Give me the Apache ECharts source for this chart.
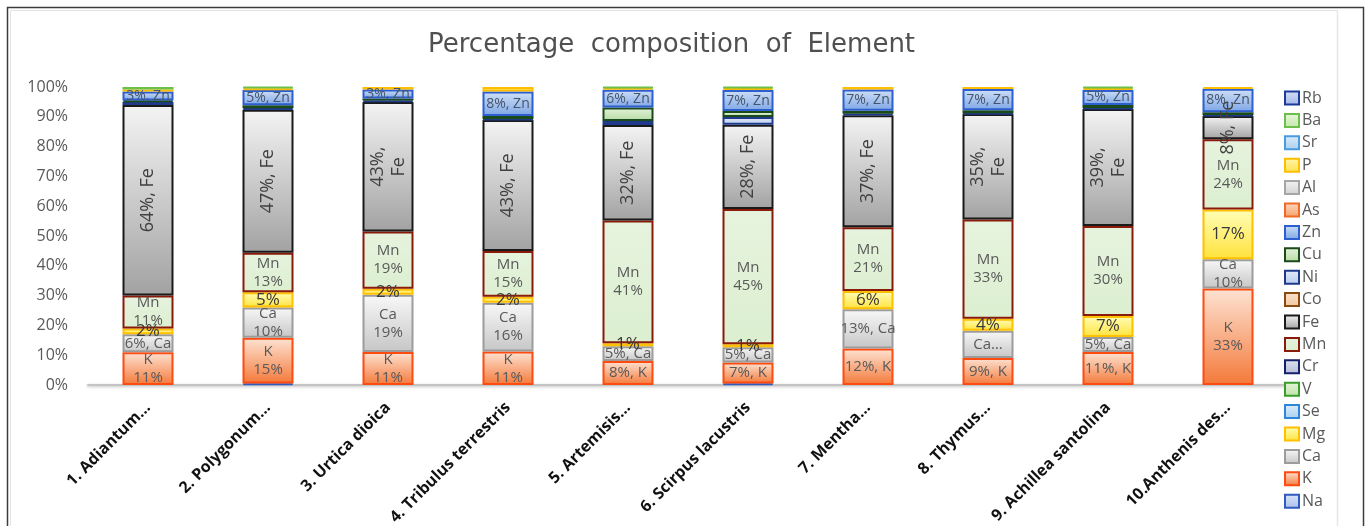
<!DOCTYPE html>
<html>
<head>
<meta charset="utf-8">
<script src="https://cdn.jsdelivr.net/npm/echarts@6/dist/echarts.min.js"></script>
<style>
  html, body { margin: 0; padding: 0; background: #ffffff; }
  #chart { width: 1369px; height: 526px; }
</style>
</head>
<body>
<div id="chart"></div>
<script>
// Plant samples (x categories)
const plants = ['1. Adiantum\u2026', '2. Polygonum\u2026', '3. Urtica dioica', '4. Tribulus terrestris',
  '5. Artemisis\u2026', '6. Scirpus lacustris', '7. Mentha\u2026', '8. Thymus\u2026',
  '9. Achillea santolina', '10.Anthenis des\u2026'];

// Stack order, bottom to top
const elements = ['Na', 'K', 'Ca', 'Mg', 'Se', 'V', 'Cr', 'Mn', 'Fe', 'Co', 'Ni', 'Cu', 'Zn', 'As', 'Al', 'P', 'Sr', 'Ba', 'Rb'];

// Element content per plant (%)
const Na = [0, 0.5, 0, 0, 0, 0.5, 0, 0, 0, 0];
const K  = [11, 15, 11, 11, 8, 7, 12, 9, 11, 33];
const Ca = [6, 10, 19, 16, 5, 5, 13, 9, 5, 10];
const Mg = [2, 5, 2, 2, 1, 1, 6, 4, 7, 17];
const Se = [0, 0, 0, 0, 0, 0, 0, 0, 0, 0];
const V  = [0, 0, 0, 0, 0, 0, 0, 0, 0, 0];
const Cr = [0, 0, 0, 0, 0, 0, 0, 0, 0, 0];
const Mn = [11, 13, 19, 15, 41, 45, 21, 33, 30, 24];
const Fe = [64, 47, 43, 43, 32, 28, 37, 35, 39, 8];
const Co = [0, 0, 0, 0, 0, 0, 0, 0, 0, 0];
const Ni = [1, 0.5, 0.5, 0.3, 1.3, 2.5, 0.5, 0.3, 0.3, 0.3];
const Cu = [0.5, 1, 0.7, 1, 4.5, 2, 1, 1, 1, 1];
const Zn = [3, 5, 3, 8, 6, 7, 7, 7, 5, 8];
const As = [0, 0, 0, 0, 0, 0, 0, 0, 0, 0];
const Al = [0, 0, 0, 0, 0, 0, 0, 0, 0, 0];
const P  = [0.7, 0.6, 0.8, 1.5, 0.6, 0.6, 0.8, 0.7, 0.6, 0.6];
const Sr = [0, 0, 0, 0, 0, 0, 0, 0, 0, 0];
const Ba = [0.8, 0.4, 0, 0, 0.3, 0.4, 0, 0, 0.4, 0];
const Rb = [0, 0, 0, 0, 0, 0, 0, 0, 0, 0];

// Data label texts ({v} = rounded value)
const labelK  = ['K\n{v}', 'K\n{v}', 'K\n{v}', 'K\n{v}', '{v}, K', '{v}, K', '{v}, K', '{v}, K', '{v}, K', 'K\n{v}'];
const labelCa = ['{v}, Ca', 'Ca\n{v}', 'Ca\n{v}', 'Ca\n{v}', '{v}, Ca', '{v}, Ca', '{v}, Ca', 'Ca\u2026', '{v}, Ca', 'Ca\n{v}'];
const labelMg = ['{v}', '{v}', '{v}', '{v}', '{v}', '{v}', '{v}', '{v}', '{v}', '{v}'];
const labelMn = ['Mn\n{v}', 'Mn\n{v}', 'Mn\n{v}', 'Mn\n{v}', 'Mn\n{v}', 'Mn\n{v}', 'Mn\n{v}', 'Mn\n{v}', 'Mn\n{v}', 'Mn\n{v}'];
const labelFe = ['{v}, Fe', '{v}, Fe', '{v},\nFe', '{v}, Fe', '{v}, Fe', '{v}, Fe', '{v}, Fe', '{v},\nFe', '{v},\nFe', '{v}, Fe'];
const labelZn = ['{v}, Zn', '{v}, Zn', '{v}, Zn', '{v}, Zn', '{v}, Zn', '{v}, Zn', '{v}, Zn', '{v}, Zn', '{v}, Zn', '{v}, Zn'];

const yTicks = [0, 10, 20, 30, 40, 50, 60, 70, 80, 90, 100];

const values = { Na, K, Ca, Mg, Se, V, Cr, Mn, Fe, Co, Ni, Cu, Zn, As, Al, P, Sr, Ba, Rb };
const labels = { K: labelK, Ca: labelCa, Mg: labelMg, Mn: labelMn, Fe: labelFe, Zn: labelZn };

// Fill gradient (top, bottom) and outline per element
const looks = {
  Na: ['#dbe5f8', '#a9c0ec', '#2f5bbf'],
  K:  ['#fde3d3', '#f4793a', '#ff4a10'],
  Ca: ['#f8f8f8', '#c6c6c6', '#9c9c9c'],
  Mg: ['#ffffb8', '#ffe23c', '#ffc000'],
  Se: ['#deedfa', '#a8cff1', '#2e86d8'],
  V:  ['#e4f4da', '#bfe3a8', '#3a9e2c'],
  Cr: ['#dfe3ef', '#b4bcd6', '#14206a'],
  Mn: ['#e6f3de', '#dcefd0', '#8a1a0a'],
  Fe: ['#f4f4f4', '#a2a2a2', '#1a1a1a'],
  Co: ['#fbe3cc', '#f1c79e', '#8a4a10'],
  Ni: ['#e3ebf8', '#b8cdef', '#1f3a8a'],
  Cu: ['#e4f2dc', '#b6dba2', '#1b4a1b'],
  Zn: ['#cfe0f7', '#7ea6e6', '#2e5fd0'],
  As: ['#fcd9c3', '#f6a06a', '#ef6a24'],
  Al: ['#f4f4f4', '#d2d2d2', '#a6a6a6'],
  P:  ['#fff6b0', '#ffe14a', '#ffbf00'],
  Sr: ['#dcecfa', '#a9cef0', '#4a9ae0'],
  Ba: ['#e8f6de', '#c4e8ac', '#6cc04a'],
  Rb: ['#d5def5', '#a3b6e6', '#1c3a9c']
};

const totals = plants.map((_, i) => elements.reduce((s, e) => s + values[e][i], 0));

function grad(top, bottom) {
  return new echarts.graphic.LinearGradient(0, 0, 0, 1, [
    { offset: 0, color: top }, { offset: 1, color: bottom }
  ]);
}

function labelOption(name) {
  const tpl = labels[name];
  if (!tpl) return { show: false };
  const base = {
    show: true,
    position: 'inside',
    fontFamily: 'Open Sans',
    fontSize: 15,
    lineHeight: 18,
    color: '#595959',
    formatter: p => tpl[p.dataIndex].replace('{v}', Math.round(values[name][p.dataIndex]) + '%')
  };
  if (name === 'Fe') Object.assign(base, { rotate: 90, fontSize: 18, lineHeight: 21, color: '#404040' });
  if (name === 'Mg') Object.assign(base, { fontSize: 17, color: '#3a3a3a' });
  if (name === 'Zn') Object.assign(base, { fontSize: 14, color: '#44546a' });
  return base;
}

const series = elements.map(name => ({
  name,
  type: 'bar',
  stack: 'share',
  barWidth: 51,
  data: plants.map((_, i) => values[name][i] > 0 ? values[name][i] / totals[i] * 100 : '-'),
  itemStyle: {
    color: grad(looks[name][0], looks[name][1]),
    borderColor: looks[name][2],
    borderWidth: 2
  },
  label: labelOption(name),
  emphasis: { disabled: true }
}));

const chart = echarts.init(document.getElementById('chart'), null, { renderer: 'canvas' });
chart.setOption({
  animation: false,
  backgroundColor: '#ffffff',
  title: {
    text: 'Percentage  composition  of  Element',
    left: 423,
    top: 27,
    textStyle: { fontFamily: 'DejaVu Sans', fontSize: 26, fontWeight: 'normal', color: '#505050' }
  },
  legend: {
    orient: 'vertical',
    left: 1279,
    top: 85,
    itemWidth: 14,
    itemHeight: 13,
    itemGap: 6.4,
    icon: 'rect',
    selectedMode: false,
    data: elements.slice().reverse(),
    textStyle: { fontFamily: 'Open Sans', fontSize: 16, lineHeight: 16, color: '#595959', padding: [0, 0, 0, -2] }
  },
  grid: { left: 88, right: 81, top: 87, bottom: 141, containLabel: false, outerBoundsMode: 'none' },
  xAxis: {
    type: 'category',
    data: plants,
    offset: 14,
    axisLine: { show: true, lineStyle: { color: '#c4c4c4', width: 2, shadowColor: 'rgba(0,0,0,0.25)', shadowBlur: 3, shadowOffsetY: 1 } },
    axisTick: { show: false },
    axisLabel: {
      interval: 0,
      rotate: 45,
      margin: 6,
      fontFamily: 'Open Sans',
      fontSize: 16,
      fontWeight: 'bold',
      color: '#111111'
    }
  },
  yAxis: {
    type: 'value',
    min: yTicks[0],
    max: yTicks[yTicks.length - 1],
    interval: yTicks[1] - yTicks[0],
    axisLine: { show: false },
    axisTick: { show: false },
    splitLine: { show: false },
    axisLabel: { formatter: '{value}%', fontFamily: 'Open Sans', fontSize: 16, color: '#595959', margin: 20 }
  },
  graphic: [
    { type: 'rect', silent: true, z: 100, shape: { x: 7.5, y: 7.5, width: 1356, height: 540 },
      style: { fill: 'none', stroke: '#3c3c3c', lineWidth: 1.5 } },
    { type: 'line', silent: true, z: 100, shape: { x1: 10.5, y1: 10.5, x2: 1337.5, y2: 10.5 },
      style: { stroke: '#e2e2e2', lineWidth: 1 } },
    { type: 'line', silent: true, z: 100, shape: { x1: 10.5, y1: 10.5, x2: 10.5, y2: 526 },
      style: { stroke: '#e2e2e2', lineWidth: 1 } },
    { type: 'line', silent: true, z: 100, shape: { x1: 1337.5, y1: 10.5, x2: 1337.5, y2: 526 },
      style: { stroke: '#e6e6e6', lineWidth: 1.5 } }
  ],
  series
});
</script>
</body>
</html>
